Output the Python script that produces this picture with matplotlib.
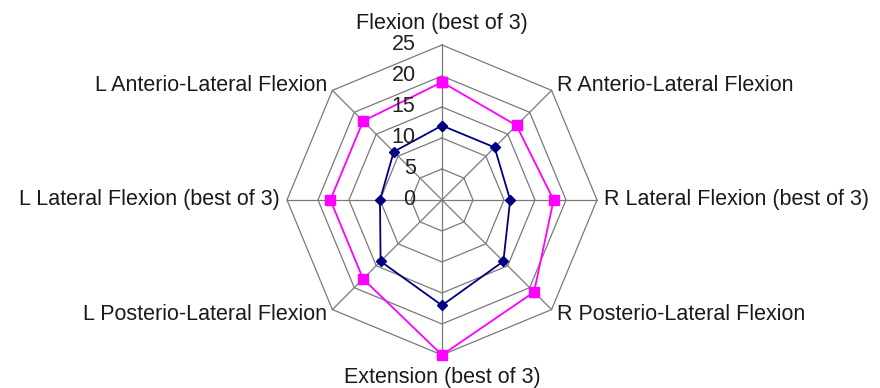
import matplotlib
matplotlib.use("Agg")
import matplotlib.pyplot as plt
import numpy as np

plt.rcParams.update({
    'font.family': ['Liberation Sans', 'DejaVu Sans'],
    'font.size': 15.5,
})

# ── Data ────────────────────────────────────────────────────────────────
categories = ['Flexion (best of 3)', 'R Anterio-Lateral Flexion',
              'R Lateral Flexion (best of 3)', 'R Posterio-Lateral Flexion',
              'Extension (best of 3)', 'L Posterio-Lateral Flexion',
              'L Lateral Flexion (best of 3)', 'L Anterio-Lateral Flexion']
navy_vals = [12, 12, 11, 14, 17, 14, 10, 11]
magenta_vals = [19, 17, 18, 21, 25, 18, 18, 18]
rings = [5, 10, 15, 20, 25]
ring_labels = ['0', '5', '10', '15', '20', '25']

n = len(categories)
theta = np.arange(n) * 2 * np.pi / n
theta_c = np.append(theta, theta[0])

fig = plt.figure(figsize=(8.8, 3.88), dpi=100)
ax = fig.add_axes([0.3261, 0.0851, 0.3523, 0.799], projection='polar')
ax.set_theta_zero_location('N')
ax.set_theta_direction(-1)
ax.set_ylim(0, 25)
ax.grid(False)
ax.spines['polar'].set_visible(False)
ax.set_xticks([])
ax.set_yticks([])
ax.patch.set_alpha(0)

GRID = '#7a7a7a'
# octagon rings
for r in rings:
    ax.plot(theta_c, [r] * (n + 1), color=GRID, lw=0.9, zorder=1, clip_on=False)
# spokes
for t in theta:
    ax.plot([t, t], [0, 25], color=GRID, lw=0.9, zorder=1, clip_on=False)

# series
ax.plot(theta_c, np.append(navy_vals, navy_vals[0]), color='#000080',
        lw=1.3, marker='D', ms=5, zorder=3, clip_on=False)
ax.plot(theta_c, np.append(magenta_vals, magenta_vals[0]), color='#FF00FF',
        lw=1.3, marker='s', ms=7, zorder=3, clip_on=False)

# radial tick labels
for i, lab in enumerate(ring_labels):
    ax.annotate(lab, xy=(0, i * 5), xytext=(-19, 0), textcoords='offset points',
                ha='right', va='center', color='#222222')

# category labels
TXT = '#1a1a1a'
ax.text(theta[0], 26.7, categories[0], ha='center', va='bottom', color=TXT)
ax.text(theta[1], 26.2, categories[1], ha='left', va='center', color=TXT)
ax.text(theta[2], 26.2, categories[2], ha='left', va='center', color=TXT)
ax.text(theta[3], 26.2, categories[3], ha='left', va='center', color=TXT)
ax.text(theta[4], 27.0, categories[4], ha='center', va='top', color=TXT)
ax.text(theta[5], 26.2, categories[5], ha='right', va='center', color=TXT)
ax.text(theta[6], 26.2, categories[6], ha='right', va='center', color=TXT)
ax.text(theta[7], 26.2, categories[7], ha='right', va='center', color=TXT)

fig.savefig('out.png', dpi=100, facecolor='white')
